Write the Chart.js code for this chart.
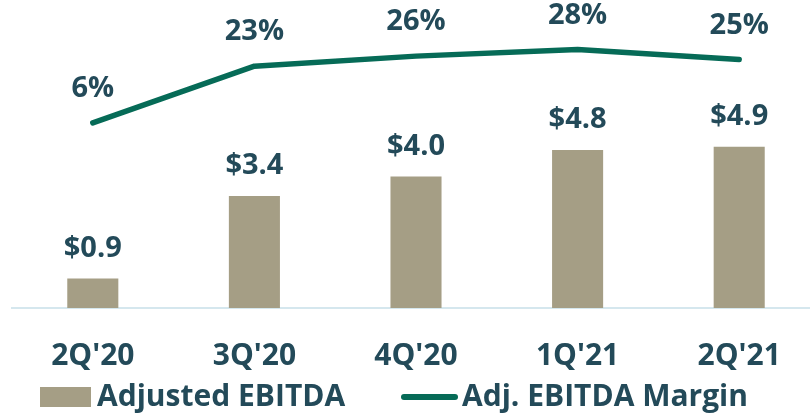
<!DOCTYPE html>
<html>
<head>
<meta charset="utf-8">
<script src="https://cdn.jsdelivr.net/npm/chart.js@4"></script>
<style>
  html, body { margin: 0; padding: 0; background: #fff; overflow: hidden; }
  canvas { display: block; }
</style>
</head>
<body>
<canvas id="chart" width="820" height="415"></canvas>
<script>
// Data
const quarters = ["2Q'20", "3Q'20", "4Q'20", "1Q'21", "2Q'21"];
const ebitda = [0.9, 3.4, 4.0, 4.8, 4.9];          // $M
const ebitdaLabels = ['$0.9', '$3.4', '$4.0', '$4.8', '$4.9'];
const margin = [6, 23, 26, 28, 25];                 // %
const marginLabels = ['6%', '23%', '26%', '28%', '25%'];
const legendNames = ['Adjusted EBITDA', 'Adj. EBITDA Margin'];

const BAR_COLOR = '#a59e85';
const LINE_COLOR = '#066b57';
const TEXT_COLOR = '#234a59';
const FONT = '"Open Sans", "DejaVu Sans", sans-serif';

// value labels above bars and line points
const valueLabels = {
    id: 'valueLabels',
    afterDatasetsDraw(chart) {
        const ctx = chart.ctx;
        ctx.save();
        ctx.fillStyle = TEXT_COLOR;
        ctx.font = 'bold 29px ' + FONT;
        ctx.textAlign = 'center';
        ctx.textBaseline = 'middle';
        chart.getDatasetMeta(1).data.forEach((el, i) => {
            ctx.fillText(ebitdaLabels[i], el.x, el.y - 30);
        });
        chart.getDatasetMeta(0).data.forEach((el, i) => {
            ctx.fillText(marginLabels[i], el.x, el.y - 34);
        });
        ctx.restore();
    }
};

// legend drawn by hand (bar swatch + thick line)
const customLegend = {
    id: 'customLegend',
    afterDraw(chart) {
        const ctx = chart.ctx;
        const y = 397;
        ctx.save();
        ctx.fillStyle = BAR_COLOR;
        ctx.fillRect(40, y - 10, 51, 20);
        ctx.strokeStyle = LINE_COLOR;
        ctx.lineWidth = 6;
        ctx.lineCap = 'round';
        ctx.beginPath();
        ctx.moveTo(404, y);
        ctx.lineTo(455, y);
        ctx.stroke();
        ctx.fillStyle = TEXT_COLOR;
        ctx.font = 'bold 30px ' + FONT;
        ctx.textAlign = 'left';
        ctx.textBaseline = 'middle';
        ctx.fillText(legendNames[0], 97, y);
        ctx.fillText(legendNames[1], 462, y);
        ctx.restore();
    }
};

new Chart(document.getElementById('chart').getContext('2d'), {
    type: 'bar',
    data: {
        labels: quarters,
        datasets: [
            {
                type: 'line',
                label: legendNames[1],
                data: margin,
                yAxisID: 'y1',
                borderColor: LINE_COLOR,
                borderWidth: 5.5,
                borderCapStyle: 'round',
                borderJoinStyle: 'round',
                pointRadius: 0,
                tension: 0,
                fill: false,
                order: 0
            },
            {
                type: 'bar',
                label: legendNames[0],
                data: ebitda,
                yAxisID: 'y',
                backgroundColor: BAR_COLOR,
                categoryPercentage: 1,
                barPercentage: 0.316,
                order: 1
            }
        ]
    },
    options: {
        responsive: false,
        animation: false,
        layout: { padding: { left: 12, right: 0, top: 0, bottom: 11 } },
        plugins: {
            legend: { display: false },
            tooltip: { enabled: false }
        },
        scales: {
            x: {
                grid: { display: false, drawTicks: false },
                border: { color: '#d5e7ee', width: 2 },
                ticks: {
                    color: TEXT_COLOR,
                    font: { family: FONT, size: 30, weight: 'bold' },
                    padding: 30
                }
            },
            y: {
                display: false,
                min: 0,
                max: 9.36
            },
            y1: {
                display: false,
                min: -49.4,
                max: 42.8
            }
        }
    },
    plugins: [valueLabels, customLegend]
});
</script>
</body>
</html>
